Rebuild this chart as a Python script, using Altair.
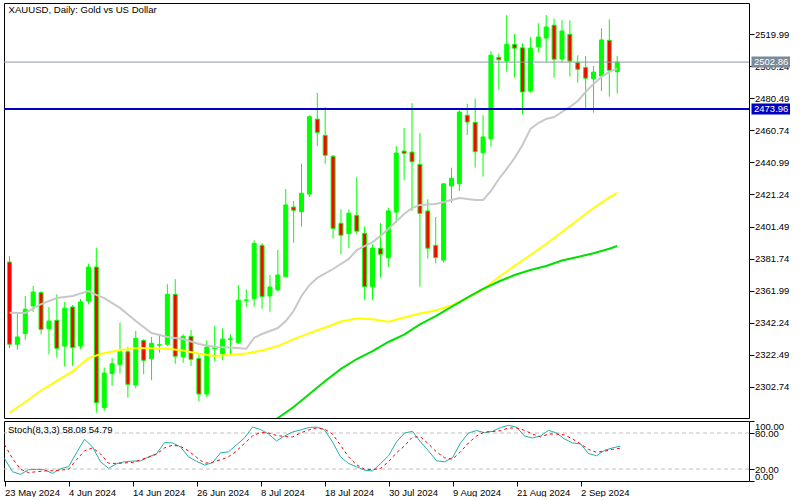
import altair as alt
import pandas as pd

# ---------------- data ----------------
n_bars = 78
bar_dates = pd.bdate_range("2024-05-23", periods=n_bars)

open_ = [2379.6, 2328.9, 2335.4, 2352.5, 2360.7, 2338.5, 2343.7, 2327.8, 2351.9, 2327.8,
         2355.6, 2376.5, 2289.8, 2310.8, 2316.5, 2324.3, 2303.8, 2331.3, 2320.0, 2328.3,
         2328.9, 2359.7, 2321.1, 2333.8, 2320.2, 2298.2, 2326.3, 2323.1, 2331.9, 2329.9,
         2355.9, 2357.1, 2389.9, 2358.7, 2362.4, 2370.6, 2413.5, 2410.6, 2421.5, 2467.7,
         2457.7, 2444.8, 2403.5, 2397.1, 2408.4, 2397.3, 2364.4, 2388.1, 2382.3, 2410.4,
         2448.0, 2447.4, 2439.8, 2411.1, 2389.9, 2380.8, 2426.5, 2427.8, 2470.1, 2465.7,
         2447.0, 2455.6, 2505.8, 2503.5, 2513.8, 2511.7, 2485.0, 2512.3, 2517.7, 2525.6,
         2504.8, 2520.0, 2502.5, 2499.6, 2492.6, 2494.3, 2516.3, 2496.9]
high = [2383.3, 2347.7, 2358.7, 2364.8, 2361.7, 2351.9, 2359.7, 2355.0, 2353.1, 2356.8,
        2378.6, 2388.4, 2314.5, 2320.4, 2342.2, 2327.2, 2337.1, 2332.0, 2333.4, 2335.0,
        2365.9, 2369.0, 2335.0, 2337.7, 2322.7, 2331.3, 2340.2, 2338.7, 2335.0, 2365.4,
        2362.8, 2393.0, 2391.3, 2371.6, 2387.0, 2424.6, 2417.2, 2440.2, 2470.1, 2483.8,
        2475.2, 2445.6, 2412.1, 2412.1, 2432.0, 2401.6, 2390.5, 2403.5, 2413.1, 2451.1,
        2462.2, 2477.6, 2459.1, 2418.3, 2407.4, 2427.9, 2437.8, 2473.1, 2477.2, 2480.3,
        2470.1, 2509.7, 2508.2, 2531.8, 2520.2, 2514.4, 2518.3, 2526.8, 2531.9, 2529.7,
        2528.8, 2528.6, 2507.0, 2506.6, 2500.4, 2523.7, 2529.2, 2506.6]
low = [2326.6, 2325.5, 2331.7, 2348.8, 2335.0, 2322.7, 2320.6, 2315.1, 2315.5, 2326.0,
       2353.5, 2286.7, 2287.8, 2303.2, 2310.8, 2296.0, 2301.8, 2310.4, 2306.7, 2323.7,
       2327.8, 2316.9, 2317.5, 2315.5, 2293.6, 2296.4, 2318.6, 2319.0, 2323.1, 2329.1,
       2351.9, 2352.1, 2350.8, 2349.0, 2361.7, 2370.4, 2391.5, 2401.4, 2419.7, 2451.1,
       2440.2, 2394.0, 2384.4, 2388.2, 2396.7, 2356.0, 2356.0, 2369.9, 2376.5, 2403.8,
       2430.2, 2411.1, 2364.4, 2381.6, 2378.8, 2379.2, 2416.2, 2423.4, 2457.9, 2437.8,
       2432.2, 2450.7, 2485.8, 2496.9, 2493.2, 2470.7, 2484.0, 2508.7, 2503.1, 2493.2,
       2502.5, 2493.9, 2490.2, 2474.7, 2471.7, 2485.0, 2481.5, 2483.6]
close = [2328.9, 2333.4, 2350.5, 2361.1, 2338.1, 2343.2, 2326.4, 2351.1, 2326.8, 2355.0,
         2376.5, 2292.9, 2311.2, 2316.9, 2324.3, 2304.2, 2332.6, 2319.0, 2329.5, 2328.6,
         2359.7, 2321.5, 2333.8, 2319.6, 2298.2, 2327.2, 2327.2, 2332.1, 2332.3, 2356.0,
         2356.2, 2391.1, 2358.3, 2364.2, 2371.6, 2414.8, 2411.5, 2422.0, 2469.2, 2459.5,
         2445.4, 2400.3, 2396.1, 2409.7, 2398.6, 2364.4, 2388.2, 2384.4, 2411.1, 2446.8,
         2446.6, 2441.4, 2409.6, 2388.1, 2382.3, 2427.8, 2431.2, 2472.1, 2465.9, 2447.6,
         2456.7, 2507.1, 2504.3, 2513.8, 2511.4, 2484.4, 2511.4, 2518.3, 2524.5, 2504.6,
         2522.0, 2503.5, 2498.4, 2492.9, 2496.7, 2516.5, 2497.8, 2502.86]

ma_gray_idx = [0, 2, 4, 6, 8, 10, 11, 12, 14, 16, 18, 20, 22, 24, 26, 28, 30, 31, 32, 34,
               35, 36, 37, 38, 39, 41, 43, 44, 46, 47, 48, 50, 51, 52, 54, 56, 57, 59, 60,
               61, 62, 63, 64, 65, 66, 67, 68, 69, 70, 71, 72, 73, 74, 75, 76, 77]
ma_gray = [2348.4, 2348.2, 2353.7, 2357.4, 2358.7, 2361.7, 2359.3, 2357.4, 2351.3, 2343.2,
           2335.8, 2333.4, 2332.1, 2329.1, 2327.2, 2326.9, 2326.2, 2332.9, 2335.2, 2338.9,
           2343.2, 2349.4, 2358.7, 2365.4, 2369.8, 2375.3, 2381.5, 2387.0, 2391.9, 2395.6,
           2400.0, 2409.2, 2412.9, 2414.8, 2415.4, 2417.8, 2419.1, 2417.8, 2417.8, 2423.4,
           2430.8, 2437.0, 2443.7, 2451.7, 2461.6, 2465.3, 2467.8, 2469.0, 2472.1, 2475.2,
           2478.9, 2484.4, 2489.4, 2493.7, 2496.8, 2498.8]

ma_yellow_idx = [0, 2, 4, 6, 8, 10, 12, 14, 16, 18, 20, 22, 24, 26, 28, 30, 32, 34, 36, 38,
                 40, 42, 44, 46, 48, 50, 52, 54, 56, 58, 60, 62, 64, 66, 68, 70, 72, 74, 76, 77]
ma_yellow = [2286.7, 2293.3, 2300.4, 2306.3, 2312.2, 2320.4, 2323.5, 2325.2, 2326.6, 2326.4,
             2326.2, 2325.1, 2323.1, 2321.7, 2322.3, 2323.2, 2325.1, 2327.8, 2332.1, 2335.8,
             2339.2, 2342.9, 2344.8, 2344.3, 2342.8, 2345.4, 2347.9, 2349.7, 2352.8, 2357.4,
             2362.7, 2370.4, 2377.2, 2383.9, 2390.7, 2398.1, 2405.5, 2412.9, 2419.4, 2422.3]

ma_green_idx = [28, 32, 34, 36, 38, 40, 42, 44, 46, 48, 50, 52, 54, 56, 58, 60, 62, 64, 66,
                68, 70, 72, 74, 76, 77]
ma_green = [2263.7, 2277.3, 2283.4, 2290.2, 2298.2, 2306.3, 2313.7, 2319.8, 2324.7, 2330.3,
            2334.9, 2341.1, 2346.3, 2351.9, 2357.7, 2363.0, 2367.6, 2371.6, 2374.7, 2377.2,
            2380.5, 2382.7, 2385.0, 2387.8, 2389.5]

stoch_k = [37.5, 15.5, 11.1, 18.8, 19.3, 18.8, 12.7, 20.5, 23.8, 47.0,
           69.6, 56.9, 32.1, 21.0, 28.8, 32.1, 33.2, 33.2, 40.3, 45.3,
           64.0, 63.5, 56.9, 40.3, 32.9, 26.6, 30.4, 46.9, 48.6, 60.2,
           71.7, 89.9, 85.8, 78.3, 66.8, 75.0, 81.7, 85.0, 89.1, 89.9,
           85.5, 65.1, 40.3, 29.3, 23.8, 18.0, 16.7, 28.8, 42.0, 65.1,
           80.0, 82.8, 65.1, 50.2, 33.7, 32.1, 38.7, 63.5, 80.0, 84.1,
           80.5, 82.8, 89.1, 92.7, 89.9, 75.0, 71.7, 75.0, 84.5, 80.0,
           70.1, 63.5, 61.8, 45.8, 42.0, 51.1, 55.2, 58.08]
stoch_d = [60.7, 37.5, 19.7, 13.9, 15.5, 16.7, 17.2, 18.3, 19.3, 35.4,
           50.2, 55.2, 45.3, 29.6, 29.3, 30.1, 30.9, 35.4, 39.5, 44.5,
           55.2, 59.7, 57.7, 50.2, 39.5, 29.6, 31.2, 35.4, 40.3, 50.2,
           62.6, 75.0, 80.8, 80.0, 75.9, 74.2, 73.4, 80.0, 85.0, 88.3,
           86.6, 78.3, 59.7, 40.3, 27.1, 19.7, 18.8, 21.0, 32.1, 46.9,
           58.5, 73.4, 73.4, 61.8, 48.6, 38.7, 36.5, 48.6, 63.5, 75.0,
           81.7, 82.5, 83.8, 88.3, 88.3, 84.5, 78.3, 73.4, 78.3, 78.3,
           76.7, 70.1, 61.8, 52.7, 47.8, 49.8, 52.7, 54.79]

price_ticks = [2302.74, 2322.49, 2342.24, 2361.99, 2381.74, 2401.49, 2421.24, 2440.99,
               2460.74, 2480.49, 2500.24, 2519.99]
stoch_ticks = [0, 20, 80, 100]
stoch_levels = [20, 80]
date_tick_idx = list(range(0, 73, 8))
date_tick_labels = [f"{d.day} {d.strftime('%b')} {d.year}" for d in bar_dates[date_tick_idx]]
bid_price = 2502.86
level_price = 2473.96
title_text = "XAUUSD, Daily:  Gold vs US Dollar"
stoch_text = "Stoch(8,3,3) 58.08 54.79"

# ---------------- chart ----------------
FONT = "Liberation Sans"
FS = 9.5
W, H1, H2 = 745, 415, 60

xs = alt.Scale(domain=[-0.0625, 93.0625], nice=False, zero=False)
ys = alt.Scale(domain=[2283.44, 2539.29], nice=False, zero=False)
yaxis = alt.Axis(orient="right", values=price_ticks, format=".2f", grid=False, domain=False,
                 tickSize=5, tickColor="black", labelColor="black", labelFont=FONT,
                 labelFontSize=FS, labelPadding=0.5, labelOverlap=False, title=None, zindex=0)
X = alt.X("i:Q", scale=xs, axis=None)

cdf = pd.DataFrame({"i": list(range(n_bars)), "o": open_, "h": high, "l": low, "c": close})
base = alt.Chart(cdf)
wicks = base.mark_rule(color="#00FF00", strokeWidth=1, clip=True).encode(
    x=X, y=alt.Y("l:Q", scale=ys, axis=yaxis), y2="h:Q")
bodies = base.mark_bar(size=4, orient="vertical", stroke="#00FF00", strokeWidth=1, clip=True).encode(
    x=X, y=alt.Y("o:Q", scale=ys, axis=yaxis), y2="c:Q",
    fill=alt.condition("datum.c >= datum.o", alt.value("#00FF00"), alt.value("#FF0000")))


def ma_line(idx, vals, color):
    d = pd.DataFrame({"i": idx, "v": vals})
    return alt.Chart(d).mark_line(color=color, strokeWidth=2, clip=True).encode(
        x=X, y=alt.Y("v:Q", scale=ys, axis=yaxis))


gray_ma = ma_line(ma_gray_idx, ma_gray, "#C8C8C8")
yellow_ma = ma_line(ma_yellow_idx, ma_yellow, "#FFFF00")
green_ma = ma_line(ma_green_idx, ma_green, "#00E000")

blue_line = alt.Chart(pd.DataFrame({"p": [level_price]})).mark_rule(
    color="#0000C0", strokeWidth=2).encode(y=alt.Y("p:Q", scale=ys, axis=yaxis))
bid_line = alt.Chart(pd.DataFrame({"p": [bid_price]})).mark_rule(
    color="#8C96A0", strokeWidth=1).encode(y=alt.Y("p:Q", scale=ys, axis=yaxis))

title = alt.Chart(pd.DataFrame({"t": [title_text]})).mark_text(
    align="left", baseline="middle", font=FONT, fontSize=9.6, color="black").encode(
    x=alt.value(4.5), y=alt.value(7), text="t:N")

tags = pd.DataFrame({"p": [bid_price, level_price],
                     "label": [f"{bid_price:.2f}", f"{level_price:.2f}"],
                     "bg": ["#7B8A9A", "#0000C0"]})
tag_bg = alt.Chart(tags).mark_rule(strokeWidth=11, strokeCap="butt").encode(
    x=alt.value(W + 2.5), x2=alt.value(W + 41), y=alt.Y("p:Q", scale=ys, axis=yaxis),
    color=alt.Color("bg:N", scale=None))
tag_txt = alt.Chart(tags).mark_text(align="left", baseline="middle", color="white",
                                    font=FONT, fontSize=FS).encode(
    x=alt.value(W + 5), y=alt.Y("p:Q", scale=ys, axis=yaxis), text="label:N")

top = alt.layer(wicks, bodies, gray_ma, yellow_ma, green_ma, blue_line, bid_line,
                title, tag_bg, tag_txt).properties(width=W, height=H1)

# stochastic panel
label_arr = "[" + ",".join(f"'{s}'" for s in date_tick_labels) + "]"
sx_axis = alt.Axis(orient="bottom", values=date_tick_idx, labelExpr=f"{label_arr}[round(datum.value / 8)]",
                   grid=False, domain=False, tickSize=5, tickColor="black", labelColor="black",
                   labelFont=FONT, labelFontSize=FS, labelAlign="left", labelBaseline="top",
                   labelPadding=1, labelOverlap=False, labelBound=False, labelFlush=False, title=None)
sy = alt.Scale(domain=[0, 100], nice=False, zero=False)
sy_axis = alt.Axis(orient="right", values=stoch_ticks, format=".2f", grid=False, domain=False,
                   tickSize=5, tickColor="black", labelColor="black", labelFont=FONT,
                   labelFontSize=FS, labelPadding=0.5, labelFlush=True, labelOverlap=False, title=None)

sdf = pd.DataFrame({"i": list(range(n_bars)), "k": stoch_k, "d": stoch_d})
SX = alt.X("i:Q", scale=xs, axis=sx_axis)
levels = alt.Chart(pd.DataFrame({"lv": stoch_levels})).mark_rule(
    color="#C0C0C0", strokeDash=[4, 3], strokeWidth=1).encode(y=alt.Y("lv:Q", scale=sy, axis=sy_axis))
kline = alt.Chart(sdf).mark_line(color="#20B2AA", strokeWidth=1).encode(
    x=SX, y=alt.Y("k:Q", scale=sy, axis=sy_axis))
dline = alt.Chart(sdf).mark_line(color="#FF0000", strokeWidth=1, strokeDash=[3, 3]).encode(
    x=SX, y=alt.Y("d:Q", scale=sy, axis=sy_axis))
stxt = alt.Chart(pd.DataFrame({"t": [stoch_text]})).mark_text(
    align="left", baseline="middle", font=FONT, fontSize=FS, color="black").encode(
    x=alt.value(4), y=alt.value(9), text="t:N")

bottom = alt.layer(levels, kline, dline, stxt).properties(width=W, height=H2)

chart = alt.vconcat(top, bottom, spacing=1).properties(
    padding={"left": 2, "top": 2, "right": 0, "bottom": 0},
    background="white",
).configure_view(stroke="black", strokeWidth=1)

chart.save("out.html", embed_options={"renderer": "svg", "actions": False})
